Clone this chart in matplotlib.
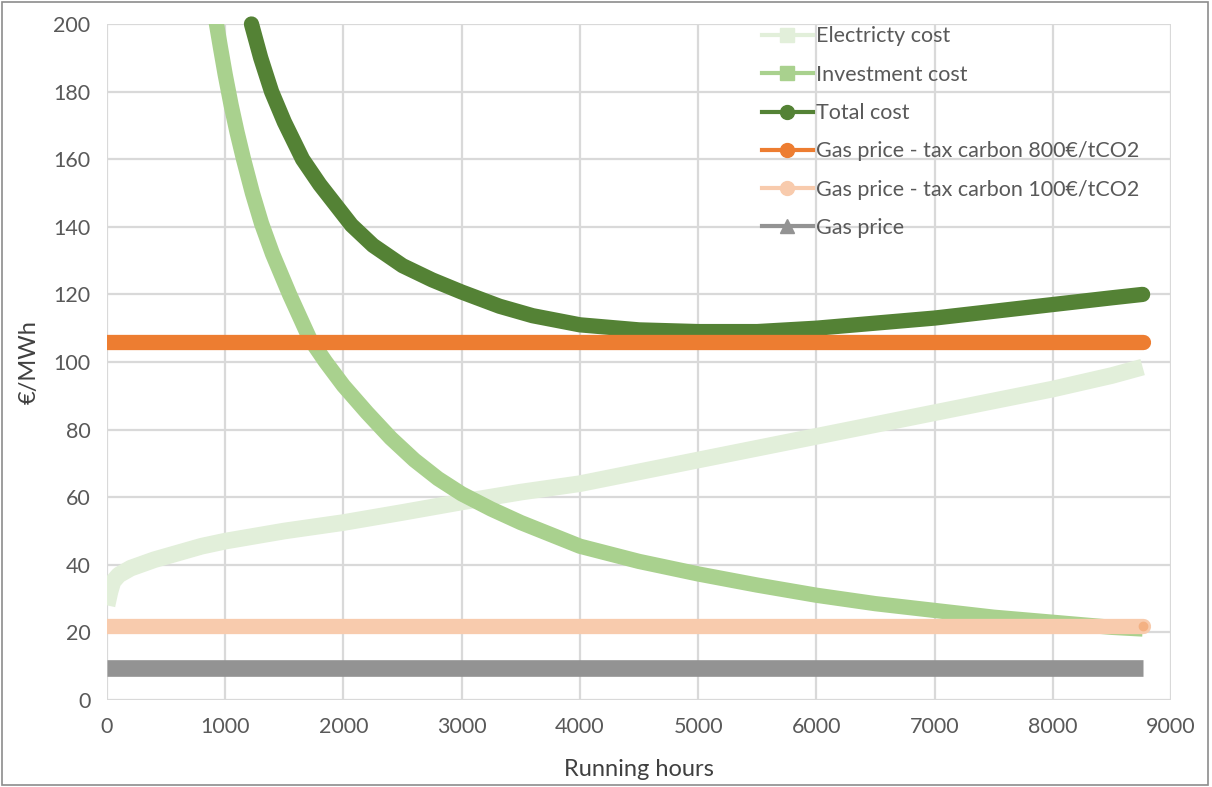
import matplotlib.pyplot as plt
from matplotlib.lines import Line2D
from matplotlib.patches import Rectangle

plt.rcParams['font.family'] = ['Lato', 'DejaVu Sans']

# electricity cost (hours, €/MWh)
elec_hours = [0, 25, 50, 100, 200, 400, 600, 800, 1000, 1250, 1500, 2000, 2500, 3000,
              3500, 4000, 4500, 5000, 5500, 6000, 6500, 7000, 7500, 8000, 8500, 8760]
elec_cost = [28, 32, 35, 37, 39, 41.5, 43.5, 45.5, 47, 48.5, 50, 52.5, 55.5, 58.6,
             61.5, 64, 67.5, 71, 74.5, 78, 81.5, 85, 88.5, 92, 96, 98.5]

# investment cost
inv_hours = [880, 926, 960, 1000, 1050, 1100, 1155, 1230, 1307, 1400, 1544, 1713, 1850,
             2000, 2200, 2400, 2600, 2800, 3000, 3250, 3500, 3750, 4000, 4500, 5000,
             5500, 6000, 6500, 7000, 7500, 8000, 8500, 8760]
inv_cost = [210, 200, 193, 185, 176, 168, 160, 150, 141, 132, 120, 107, 100,
            93, 85, 77.5, 71, 65.5, 61, 56.5, 52.5, 49, 45.5, 41, 37.3,
            34, 31, 28.5, 26.5, 24.5, 23, 21.5, 21]

# total cost
tot_hours = [1222, 1300, 1392, 1500, 1654, 1800, 2068, 2250, 2500, 2750, 3000, 3320,
             3600, 4000, 4500, 5000, 5500, 6000, 6500, 7000, 7500, 8000, 8500, 8760]
tot_cost = [200, 190, 180, 171, 160, 152.5, 140.5, 134.5, 128.5, 124.3, 120.7, 116.5,
            113.7, 111, 109.5, 109, 109, 110, 111.5, 113, 115, 117, 119, 120]

# flat gas price lines
flat_hours = [0, 8760]
gas_tax800 = [106, 106]
gas_tax100 = [22, 22]
gas_price = [9.5, 9.5]

c_elec = '#e2efda'
c_inv = '#a9d18e'
c_tot = '#548235'
c_800 = '#ed7d31'
c_100 = '#f8cbad'
c_gas = '#939393'
grey_txt = '#595959'

fig = plt.figure(figsize=(12.12, 7.87), dpi=100)
ax = fig.add_axes([107/1212, 87/787, 1064/1212, 676/787])

lw = 11
ax.plot(elec_hours, elec_cost, color=c_elec, lw=12, solid_capstyle='butt',
        solid_joinstyle='round', zorder=2)
ax.plot(inv_hours, inv_cost, color=c_inv, lw=lw, solid_capstyle='butt',
        solid_joinstyle='round', zorder=3)
ax.plot(tot_hours, tot_cost, color=c_tot, lw=lw, solid_capstyle='round',
        solid_joinstyle='round', zorder=4, clip_on=False)
ax.plot(flat_hours, gas_tax800, color=c_800, lw=lw, solid_capstyle='round', zorder=5)
ax.plot(flat_hours, gas_tax100, color=c_100, lw=lw, solid_capstyle='round', zorder=6)
ax.plot(flat_hours[-1:], gas_tax100[-1:], 'o', color='#f4b183', ms=6, zorder=7)
ax.plot(flat_hours, gas_price, color=c_gas, lw=12, solid_capstyle='butt', zorder=6)

ax.set_xlim(0, 9000)
ax.set_ylim(0, 200)
ax.set_xticks(range(0, 9001, 1000))
ax.set_yticks(range(0, 201, 20))
ax.grid(True, color='#d9d9d9', lw=1.6, zorder=0)
ax.set_axisbelow(True)
for s in ax.spines.values():
    s.set_visible(False)
ax.tick_params(length=0, labelsize=15.5, labelcolor=grey_txt, pad=12)
ax.set_xlabel('Running hours', fontsize=17, color='#404040', labelpad=16)
ax.set_ylabel('€/MWh', fontsize=17, color='#404040', labelpad=10)

handles = [
    Line2D([], [], color=c_elec, lw=3, marker='s', ms=10),
    Line2D([], [], color=c_inv, lw=3, marker='s', ms=10),
    Line2D([], [], color=c_tot, lw=3, marker='o', ms=10),
    Line2D([], [], color=c_800, lw=3, marker='o', ms=10),
    Line2D([], [], color=c_100, lw=3, marker='o', ms=10),
    Line2D([], [], color=c_gas, lw=3, marker='^', ms=10),
]
labels = ['Electricty cost', 'Investment cost', 'Total cost',
          'Gas price - tax carbon 800€/tCO2', 'Gas price - tax carbon 100€/tCO2', 'Gas price']
leg = ax.legend(handles, labels, loc='upper left', bbox_to_anchor=(0.597, 1.025),
                frameon=False, fontsize=15.5, labelcolor=grey_txt, handlelength=2.4,
                handletextpad=0.15, labelspacing=0.85)
leg.set_zorder(10)

fig.patches.append(Rectangle((0.002, 0.002), 0.995, 0.995, transform=fig.transFigure,
                             fill=False, edgecolor='#8c8c8c', lw=1.2))

fig.savefig('out.png', dpi=100)
